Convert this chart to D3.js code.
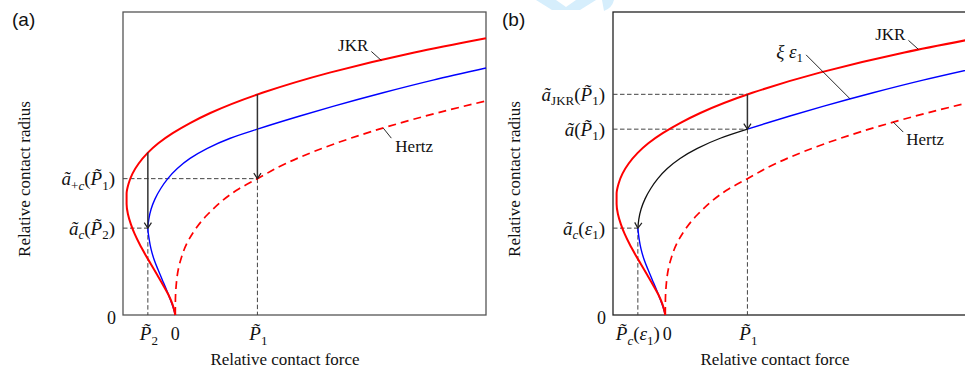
<!DOCTYPE html>
<html>
<head>
<meta charset="utf-8">
<title>Relative contact radius vs force</title>
<script src="https://cdn.jsdelivr.net/npm/d3@7"></script>
<style>
  body { margin: 0; background: #fff; }
</style>
</head>
<body>
<div id="container"></div>
<script>
  // Curves, as [relative force, relative radius], ordered by radius.
  const jkrCurve = [[0, 0], [-0.08, 0.1], [-0.21, 0.2], [-0.38, 0.3], [-0.56, 0.4], [-0.74, 0.5],
    [-0.92, 0.6], [-1.09, 0.7], [-1.24, 0.8], [-1.36, 0.9], [-1.45, 1.0], [-1.49, 1.1], [-1.49, 1.2],
    [-1.43, 1.3], [-1.31, 1.4], [-1.12, 1.5], [-0.86, 1.6], [-0.52, 1.7], [-0.08, 1.8], [0.45, 1.9],
    [1.07, 2.0], [2.66, 2.2], [4.72, 2.4], [7.31, 2.6], [9.5, 2.74]];
  // reduced curve: origin up to the critical point, critical point up to P1, P1 onwards
  const reducedLower = [[0, 0], [-0.06, 0.07], [-0.15, 0.15], [-0.27, 0.25], [-0.4, 0.35], [-0.53, 0.45],
    [-0.65, 0.55], [-0.74, 0.65], [-0.8, 0.75], [-0.84, 0.86]];
  const reducedMid = [[-0.84, 0.86], [-0.81, 0.95], [-0.74, 1.05], [-0.62, 1.15], [-0.45, 1.25],
    [-0.23, 1.35], [0.06, 1.45], [0.45, 1.55], [0.98, 1.65], [1.68, 1.75], [2.51, 1.84]];
  const reducedUpper = [[2.51, 1.84], [3.81, 1.97], [4.82, 2.065], [6.35, 2.2], [7.88, 2.325], [9.5, 2.445]];
  const hertzCurve = [[0, 0], [0.002, 0.13], [0.016, 0.25], [0.125, 0.5], [0.42, 0.75], [1.0, 1.0],
    [1.95, 1.25], [2.51, 1.35], [3.38, 1.5], [5.36, 1.75], [8.0, 2.0], [9.5, 2.12]];

  // Marked forces and radii
  const P1 = 2.51;
  const P2 = -0.84;
  const aHertzP1 = 1.35;
  const aCrit = 0.86;
  const aJkrP1 = 2.185;
  const aJkrP2 = 1.61;
  const aRedP1 = 1.84;

  const width = 965;
  const height = 370;
  const serif = "'Liberation Serif', 'DejaVu Serif', serif";
  const sans = "'Liberation Sans', Arial, sans-serif";

  const x = d3.scaleLinear().domain([-1.6, 9.5]).range([123, 486]);
  const y = d3.scaleLinear().domain([0, 3]).range([315, 12]);

  const line = d3.line()
      .x(d => x(d[0]))
      .y(d => y(d[1]))
      .curve(d3.curveMonotoneY);

  const svg = d3.select("#container").append("svg")
      .attr("width", width)
      .attr("height", height)
      .style("display", "block");

  svg.append("defs").append("marker")
      .attr("id", "arrow")
      .attr("viewBox", "-7 -5 8 10")
      .attr("refX", 0).attr("refY", 0)
      .attr("markerWidth", 8).attr("markerHeight", 10)
      .attr("markerUnits", "userSpaceOnUse")
      .attr("orient", "auto-start-reverse")
    .append("path")
      .attr("d", "M-5.5,-3.6L0,0L-5.5,3.6")
      .attr("fill", "none")
      .attr("stroke", "#222")
      .attr("stroke-width", 1.2);

  // watermark fragment at the top edge
  svg.append("path")
      .attr("d", "M536,0 L556,0 L566,7 L576,0 L596,0 L580,10 L552,10 Z M602,0 L614,0 Q612,8 604,11 Z")
      .attr("fill", "#d6eefc");

  // text with italic parts and subscripts
  function mathText(g, px, py, parts, anchor, size) {
    size = size || 19;
    const t = g.append("text")
        .attr("x", px).attr("y", py)
        .attr("text-anchor", anchor)
        .attr("font-family", serif)
        .attr("font-size", size)
        .attr("fill", "#111");
    let shift = 0;
    parts.forEach(p => {
      const want = p.sub ? 4.5 : 0;
      const s = t.append("tspan").text(p.t);
      if (want !== shift) s.attr("dy", want - shift);
      shift = want;
      if (p.i) s.attr("font-style", "italic");
      if (p.sub) s.attr("font-size", Math.round(size * 0.7));
    });
    return t;
  }

  function dashed(g, x1, y1, x2, y2) {
    g.append("line")
        .attr("x1", x1).attr("y1", y1).attr("x2", x2).attr("y2", y2)
        .attr("stroke", "#444")
        .attr("stroke-width", 1)
        .attr("stroke-dasharray", "4.5,2.5");
  }

  function arrowDown(g, fx, fromA, toA) {
    g.append("line")
        .attr("x1", x(fx)).attr("y1", y(fromA))
        .attr("x2", x(fx)).attr("y2", y(toA))
        .attr("stroke", "#333")
        .attr("stroke-width", 1.5)
        .attr("marker-end", "url(#arrow)");
  }

  function leader(g, pt, dx, dy) {
    g.append("line")
        .attr("x1", x(pt[0]) + dx).attr("y1", y(pt[1]) + dy)
        .attr("x2", x(pt[0])).attr("y2", y(pt[1]))
        .attr("stroke", "#111")
        .attr("stroke-width", 0.9);
  }

  function curve(g, data, color, w, dash) {
    const p = g.append("path")
        .datum(data)
        .attr("d", line)
        .attr("fill", "none")
        .attr("stroke", color)
        .attr("stroke-width", w);
    if (dash) p.attr("stroke-dasharray", dash);
    return p;
  }

  function frame(g, tag, boxColor) {
    g.append("text")
        .attr("x", 12).attr("y", 26)
        .attr("font-family", sans).attr("font-size", 19)
        .attr("fill", "#111")
        .text(tag);

    g.append("rect")
        .attr("x", x(-1.6)).attr("y", y(3))
        .attr("width", x(9.5) - x(-1.6)).attr("height", y(0) - y(3))
        .attr("fill", "none")
        .attr("stroke", boxColor)
        .attr("stroke-width", 1.3);

    g.append("text")
        .attr("x", 116).attr("y", y(0) + 9)
        .attr("text-anchor", "end")
        .attr("font-family", serif).attr("font-size", 18)
        .attr("fill", "#111")
        .text("0");

    g.append("text")
        .attr("x", 285).attr("y", 365)
        .attr("text-anchor", "middle")
        .attr("font-family", serif).attr("font-size", 17)
        .attr("fill", "#111")
        .text("Relative contact force");

    g.append("text")
        .attr("transform", "translate(30,179) rotate(-90)")
        .attr("text-anchor", "middle")
        .attr("font-family", serif).attr("font-size", 17)
        .attr("fill", "#111")
        .text("Relative contact radius");
  }

  const Ptilde = "P\u0303";

  // ---------- panel (a) ----------
  const ga = svg.append("g");
  frame(ga, "(a)", "#555");

  dashed(ga, x(-1.6), y(aHertzP1), x(P1), y(aHertzP1));
  dashed(ga, x(-1.6), y(aCrit), x(P2), y(aCrit));
  dashed(ga, x(P2), y(aCrit), x(P2), y(0));
  dashed(ga, x(P1), y(aHertzP1), x(P1), y(0));

  curve(ga, reducedLower.concat(reducedMid.slice(1), reducedUpper.slice(1)), "#0000ff", 1.4);
  curve(ga, hertzCurve, "#ff0000", 1.7, "8,5");
  curve(ga, jkrCurve, "#ff0000", 2);

  arrowDown(ga, P2, aJkrP2, aCrit);
  arrowDown(ga, P1, aJkrP1, aHertzP1);

  mathText(ga, 115, y(aHertzP1) + 6.5, [
    {t: "ã", i: 1}, {t: "+", sub: 1}, {t: "c", i: 1, sub: 1}, {t: "("}, {t: Ptilde, i: 1}, {t: "1", sub: 1}, {t: ")"}
  ], "end");
  mathText(ga, 115, y(aCrit) + 6.5, [
    {t: "ã", i: 1}, {t: "c", i: 1, sub: 1}, {t: "("}, {t: Ptilde, i: 1}, {t: "2", sub: 1}, {t: ")"}
  ], "end");

  mathText(ga, x(P2) + 1, 340, [{t: Ptilde, i: 1}, {t: "2", sub: 1}], "middle");
  mathText(ga, x(0), 340, [{t: "0"}], "middle", 18);
  mathText(ga, x(P1) + 1, 340, [{t: Ptilde, i: 1}, {t: "1", sub: 1}], "middle");

  const jkrMarkA = [6.3, 2.52];
  leader(ga, jkrMarkA, -10, -9);
  mathText(ga, x(jkrMarkA[0]) - 13, y(jkrMarkA[1]) - 9, [{t: "JKR"}], "end", 17);
  const hertzMarkA = [6.36, 1.85];
  leader(ga, hertzMarkA, 8, 10);
  mathText(ga, x(hertzMarkA[0]) + 12, y(hertzMarkA[1]) + 24, [{t: "Hertz"}], "start", 17);

  // ---------- panel (b) ----------
  const gb = svg.append("g").attr("transform", "translate(490,0)");
  frame(gb, "(b)", "#222");

  dashed(gb, x(-1.6), y(aJkrP1), x(P1), y(aJkrP1));
  dashed(gb, x(-1.6), y(aRedP1), x(P1), y(aRedP1));
  dashed(gb, x(-1.6), y(aCrit), x(P2), y(aCrit));
  dashed(gb, x(P2), y(aCrit), x(P2), y(0));
  dashed(gb, x(P1), y(aRedP1), x(P1), y(0));

  curve(gb, reducedLower, "#0000ff", 1.4);
  curve(gb, reducedUpper, "#0000ff", 1.4);
  curve(gb, reducedMid, "#111", 1.3).attr("marker-start", "url(#arrow)");
  curve(gb, hertzCurve, "#ff0000", 1.7, "8,5");
  curve(gb, jkrCurve, "#ff0000", 2);

  arrowDown(gb, P1, aJkrP1, aRedP1);

  mathText(gb, 115, y(aJkrP1) + 6.5, [
    {t: "ã", i: 1}, {t: "JKR", sub: 1}, {t: "("}, {t: Ptilde, i: 1}, {t: "1", sub: 1}, {t: ")"}
  ], "end");
  mathText(gb, 115, y(aRedP1) + 6.5, [
    {t: "ã", i: 1}, {t: "("}, {t: Ptilde, i: 1}, {t: "1", sub: 1}, {t: ")"}
  ], "end");
  mathText(gb, 115, y(aCrit) + 6.5, [
    {t: "ã", i: 1}, {t: "c", i: 1, sub: 1}, {t: "("}, {t: "ε", i: 1}, {t: "1", sub: 1}, {t: ")"}
  ], "end");

  mathText(gb, x(P2), 340, [
    {t: Ptilde, i: 1}, {t: "c", i: 1, sub: 1}, {t: "("}, {t: "ε", i: 1}, {t: "1", sub: 1}, {t: ")"}
  ], "middle");
  mathText(gb, x(0) + 2, 340, [{t: "0"}], "middle", 18);
  mathText(gb, x(P1) + 1, 340, [{t: Ptilde, i: 1}, {t: "1", sub: 1}], "middle");

  const jkrMarkB = [7.74, 2.63];
  leader(gb, jkrMarkB, -10, -9);
  mathText(gb, x(jkrMarkB[0]) - 13, y(jkrMarkB[1]) - 9, [{t: "JKR"}], "end", 17);
  const xiMark = [5.65, 2.14];
  leader(gb, xiMark, -44, -44);
  mathText(gb, x(xiMark[0]) - 47, y(xiMark[1]) - 41, [{t: "ξ", i: 1}, {t: " "}, {t: "ε", i: 1}, {t: "1", sub: 1}], "end");
  const hertzMarkB = [6.97, 1.91];
  leader(gb, hertzMarkB, 10, 10);
  mathText(gb, x(hertzMarkB[0]) + 13, y(hertzMarkB[1]) + 23, [{t: "Hertz"}], "start", 17);
</script>
</body>
</html>
